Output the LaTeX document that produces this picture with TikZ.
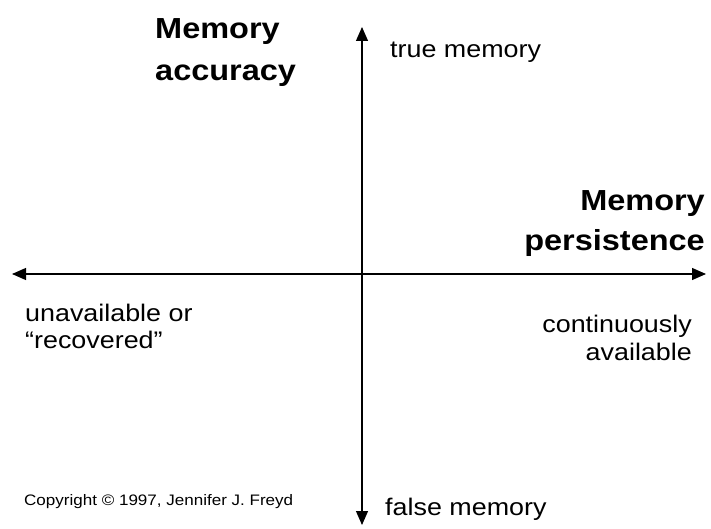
\documentclass[tikz,border=0pt]{standalone}
\usepackage{fontspec}
\setmainfont{Liberation Sans}[FakeStretch=1.12]
\usetikzlibrary{arrows.meta}

\tikzset{
  axisline/.style={line width=1.2pt, {Triangle[length=14pt,width=12pt]}-{Triangle[length=14pt,width=12pt]}},
  bigname/.style={font=\bfseries\fontsize{29}{33}\selectfont, inner sep=0pt},
  endname/.style={font=\fontsize{24}{28}\selectfont, inner sep=0pt},
  small/.style={font=\fontsize{15.2}{18}\selectfont, inner sep=0pt}
}

\begin{document}
\begin{tikzpicture}[x=1pt,y=-1pt]
\useasboundingbox (0,0) rectangle (711,529);

\coordinate (west) at (12,274);
\coordinate (east) at (706,274);
\coordinate (north) at (362,27);
\coordinate (south) at (362,525);

\draw[axisline]
  (west) -- (east);
\draw[axisline]
  (south) -- (north);

\node[bigname, anchor=base west] (acc1) at (155,39) {Memory};
\node[bigname, anchor=base west] (acc2) at (155,81) {accuracy};

\node[bigname, anchor=base east] (per1) at (705,211) {Memory};
\node[bigname, anchor=base east] (per2) at (705,250) {persistence};

\node[endname, anchor=base west] (true) at (390,58) {true memory};
\node[endname, anchor=base west] (false) at (385,515) {false memory};

\node[endname, anchor=base west] (unav1) at (25,321) {unavailable or};
\node[endname, anchor=base west] (unav2) at (25,348) {“recovered”};

\node[endname, anchor=base east] (cont1) at (692,332) {continuously};
\node[endname, anchor=base east] (cont2) at (692,360) {available};

\node[small, anchor=base west] (copy) at (24,505) {Copyright © 1997, Jennifer J. Freyd};

\end{tikzpicture}
\end{document}
